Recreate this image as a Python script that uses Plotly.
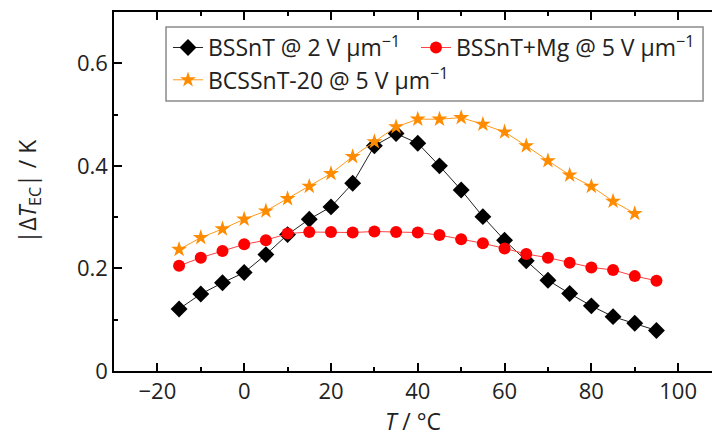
import plotly.graph_objects as go

# Temperature grid (°C)
temp_bssnt = [-15, -10, -5, 0, 5, 10, 15, 20, 25, 30, 35, 40, 45, 50, 55, 60, 65, 70, 75, 80, 85, 90, 95]
temp_mg = [-15, -10, -5, 0, 5, 10, 15, 20, 25, 30, 35, 40, 45, 50, 55, 60, 65, 70, 75, 80, 85, 90, 95]
temp_bcssnt = [-15, -10, -5, 0, 5, 10, 15, 20, 25, 30, 35, 40, 45, 50, 55, 60, 65, 70, 75, 80, 85, 90]

# |ΔT_EC| (K)
dt_bssnt = [0.121, 0.150, 0.172, 0.192, 0.227, 0.266, 0.296, 0.320, 0.366, 0.439, 0.463,
            0.444, 0.400, 0.353, 0.301, 0.255, 0.215, 0.177, 0.151, 0.127, 0.106, 0.093, 0.079]
dt_mg = [0.205, 0.221, 0.234, 0.247, 0.255, 0.268, 0.271, 0.271, 0.270, 0.272, 0.271,
         0.270, 0.265, 0.257, 0.249, 0.239, 0.228, 0.221, 0.211, 0.202, 0.197, 0.185, 0.176]
dt_bcssnt = [0.237, 0.260, 0.277, 0.296, 0.312, 0.336, 0.360, 0.385, 0.418, 0.447, 0.476,
             0.491, 0.491, 0.494, 0.481, 0.466, 0.439, 0.410, 0.382, 0.360, 0.331, 0.307]

names = ["BSSnT @ 2 V µm<sup>−1</sup>",
         "BSSnT+Mg @ 5 V µm<sup>−1</sup>",
         "BCSSnT-20 @ 5 V µm<sup>−1</sup>"]

FONT = "Open Sans"
TEXT = "#222222"

fig = go.Figure()
fig.add_trace(go.Scatter(
    x=temp_bssnt, y=dt_bssnt, name=names[0], mode="lines+markers", legend="legend",
    line=dict(color="#222222", width=1),
    marker=dict(symbol="diamond", size=13, color="black"),
))
fig.add_trace(go.Scatter(
    x=temp_mg, y=dt_mg, name=names[1], mode="lines+markers", legend="legend2",
    line=dict(color="#ff4040", width=1),
    marker=dict(symbol="circle", size=12, color="#ff0000"),
))
fig.add_trace(go.Scatter(
    x=temp_bcssnt, y=dt_bcssnt, name=names[2], mode="lines+markers", legend="legend3",
    line=dict(color="#ff9a1a", width=1),
    marker=dict(symbol="star", size=12, color="#ff8c00"),
))

axis_common = dict(
    showline=True, linecolor="black", linewidth=1.5,
    ticks="inside", tickcolor="black", tickwidth=1.5, ticklen=8,
    showgrid=False, zeroline=False,
    tickfont=dict(family=FONT, size=22, color=TEXT),
)

fig.update_xaxes(
    **axis_common,
    range=[-30, 107.8], dtick=20, tick0=0, mirror="ticks",
    minor=dict(ticks="inside", dtick=10, ticklen=4, tickwidth=1.5, tickcolor="black"),
    title=dict(text="<i>T</i> / °C", font=dict(family=FONT, size=23, color=TEXT), standoff=6),
)
fig.update_yaxes(
    **axis_common,
    range=[0, 0.7], dtick=0.2, tick0=0, mirror=False,
    minor=dict(ticks="inside", dtick=0.1, ticklen=4, tickwidth=1.5, tickcolor="black"),
    title=dict(text="|Δ<i>T</i><sub>EC</sub>| / K", font=dict(family=FONT, size=23, color=TEXT), standoff=34),
)

# Frame around the three legend entries
fig.add_shape(
    type="rect", xref="paper", yref="paper",
    x0=0.087, x1=0.985, y0=0.752, y1=0.958,
    line=dict(color="#8a8a8a", width=1.5), fillcolor="white", layer="above",
)

legend_style = dict(
    orientation="h", xanchor="left", yanchor="middle",
    borderwidth=0, bgcolor="rgba(0,0,0,0)",
    font=dict(family=FONT, size=23, color=TEXT),
    itemwidth=30,
)

fig.update_layout(
    width=712, height=439,
    margin=dict(l=114, r=0, t=12, b=68),
    plot_bgcolor="white", paper_bgcolor="white",
    showlegend=True,
    legend=dict(**legend_style, x=0.0903, y=0.901),
    legend2=dict(**legend_style, x=0.505, y=0.901),
    legend3=dict(**legend_style, x=0.0903, y=0.811),
)

fig.write_html("out.html")
